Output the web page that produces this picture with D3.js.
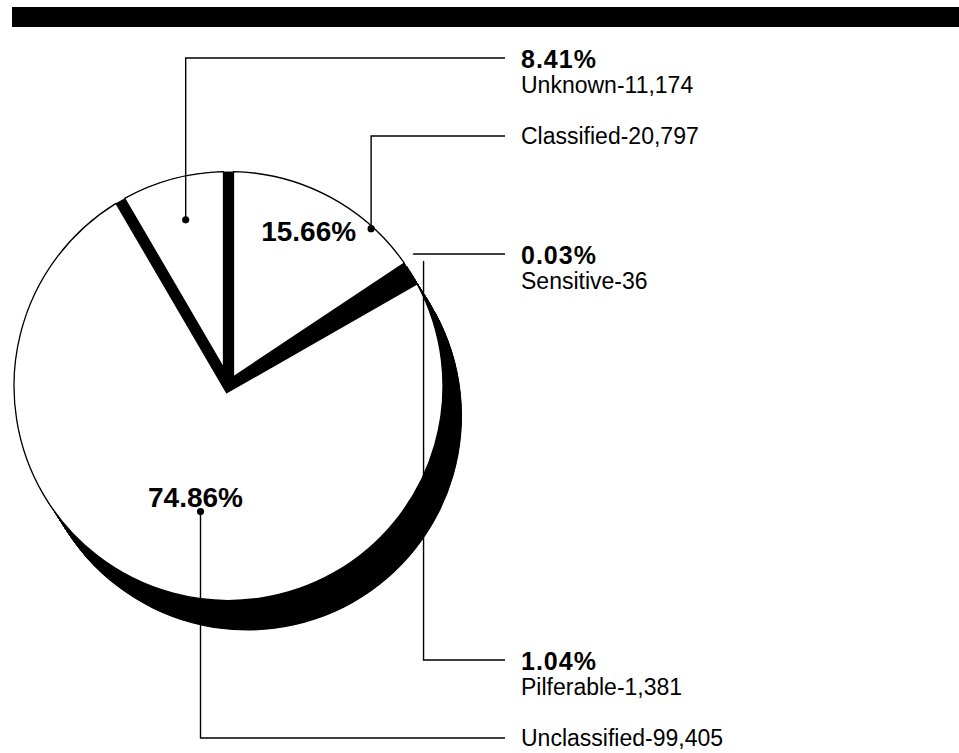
<!DOCTYPE html>
<html lang="en">
<head>
<meta charset="UTF-8">
<title>Items by category</title>
<style>
  body { margin: 0; background: #fff; }
  svg { display: block; }
  .name { font-family: "Liberation Sans", Arial, sans-serif; font-size: 23px; }
  .pct { font-family: "Liberation Sans", Arial, sans-serif; font-size: 25px; font-weight: bold; letter-spacing: 1px; }
  .pct-in { font-family: "Liberation Sans", Arial, sans-serif; font-size: 28px; font-weight: bold; }
</style>
</head>
<body>
<svg id="chart" width="959" height="753"></svg>
<script src="https://d3js.org/d3.v7.min.js"></script>
<script>
  // slices go clockwise from 12 o'clock
  const categories = ["Classified", "Sensitive", "Pilferable", "Unclassified", "Unknown"];
  const counts = [20797, 36, 1381, 99405, 11174];
  // percentage printed inside the pie (others get it in the outside label)
  const pctInside = [true, false, false, true, false];

  // leader layout: shift from slice middle (deg), radius as share of R, y of the label line
  const leaderShift = [14, -2, -1, -2.4, 0.7];
  const leaderRadius = [0.99, 1.06, 1.08, 0.6, 0.8];
  const labelLineY = [136, 254, 660, 738, 58];
  const hasDot = [true, false, false, true, true];
  // inside label offset from the dot
  const inDx = [-15, 0, 0, -5, 0];
  const inDy = [12, 0, 0, -5, 0];
  const inAnchor = ["end", "", "", "middle", ""];

  const svg = d3.select("#chart");
  const cx = 228.5, cy = 386, R = 214.5;
  const gap = 10;              // gap between the big slices
  const depth = [19, 30];      // extrusion offset (the black "side")
  const thin = [false, true, true, false, false];  // tiny slices, drawn solid

  // heavy rule across the top
  svg.append("rect")
    .attr("x", 12).attr("y", 7)
    .attr("width", 947).attr("height", 20)
    .attr("fill", "#000");

  const pie = d3.pie().sort(null).value(d => d)(counts);
  const total = d3.sum(counts);
  const fmtPct = v => d3.format(".2f")(v / total * 100) + "%";
  const fmtNum = d3.format(",");

  const wedge = d3.arc().innerRadius(0).outerRadius(R);

  // slice top face, edges pulled in by gap/2 so neighbours sit apart
  function facePath(d, i) {
    if (thin[i]) return wedge(d);
    const a0 = d.startAngle, a1 = d.endAngle;
    const h = gap / 2;
    const mid = (a0 + a1) / 2;
    const k = h / Math.sin((a1 - a0) / 2);
    const dl = Math.asin(h / R);
    const p = d3.path();
    p.moveTo(k * Math.sin(mid), -k * Math.cos(mid));
    p.lineTo(R * Math.sin(a0 + dl), -R * Math.cos(a0 + dl));
    p.arc(0, 0, R, a0 + dl - Math.PI / 2, a1 - dl - Math.PI / 2);
    p.closePath();
    return p.toString();
  }

  const g = svg.append("g").attr("transform", `translate(${cx},${cy})`);

  // extrusion: the face swept along the depth offset
  const steps = d3.range(0, 1.0001, 1 / 60);
  const ext = g.append("g");
  pie.forEach((d, i) => {
    const dStr = facePath(d, i);
    ext.selectAll(null).data(steps).join("path")
      .attr("d", dStr)
      .attr("transform", t => `translate(${t * depth[0]},${t * depth[1]})`)
      .attr("fill", "#000");
  });

  // dark under the gaps
  g.append("circle").attr("r", R).attr("fill", "#000");

  g.selectAll("path.face").data(pie).join("path")
    .attr("class", "face")
    .attr("d", (d, i) => facePath(d, i))
    .attr("fill", (d, i) => thin[i] ? "#000" : "#fff")
    .attr("stroke", "#000")
    .attr("stroke-width", 1.3);

  const anchor = (d, i) => {
    const a = (d.startAngle + d.endAngle) / 2 + leaderShift[i] * Math.PI / 180;
    const r = leaderRadius[i] * R;
    return [cx + r * Math.sin(a), cy - r * Math.cos(a)];
  };

  const lineEnd = 505, textX = 521;

  pie.forEach((d, i) => {
    const [ax, ay] = anchor(d, i);
    const ly = labelLineY[i];
    svg.append("path")
      .attr("d", `M${ax},${ay}V${ly}H${lineEnd}`)
      .attr("fill", "none")
      .attr("stroke", "#000")
      .attr("stroke-width", 1.4);

    if (hasDot[i]) {
      svg.append("circle").attr("cx", ax).attr("cy", ay).attr("r", 3.6).attr("fill", "#000");
    }

    if (pctInside[i]) {
      svg.append("text").attr("class", "pct-in")
        .attr("x", ax + inDx[i]).attr("y", ay + inDy[i])
        .attr("text-anchor", inAnchor[i])
        .text(fmtPct(counts[i]));
      svg.append("text").attr("class", "name")
        .attr("x", textX).attr("y", ly + 8)
        .text(`${categories[i]}-${fmtNum(counts[i])}`);
    } else {
      svg.append("text").attr("class", "pct")
        .attr("x", textX).attr("y", ly + 9.5)
        .text(fmtPct(counts[i]));
      svg.append("text").attr("class", "name")
        .attr("x", textX).attr("y", ly + 35)
        .text(`${categories[i]}-${fmtNum(counts[i])}`);
    }
  });
</script>
</body>
</html>
